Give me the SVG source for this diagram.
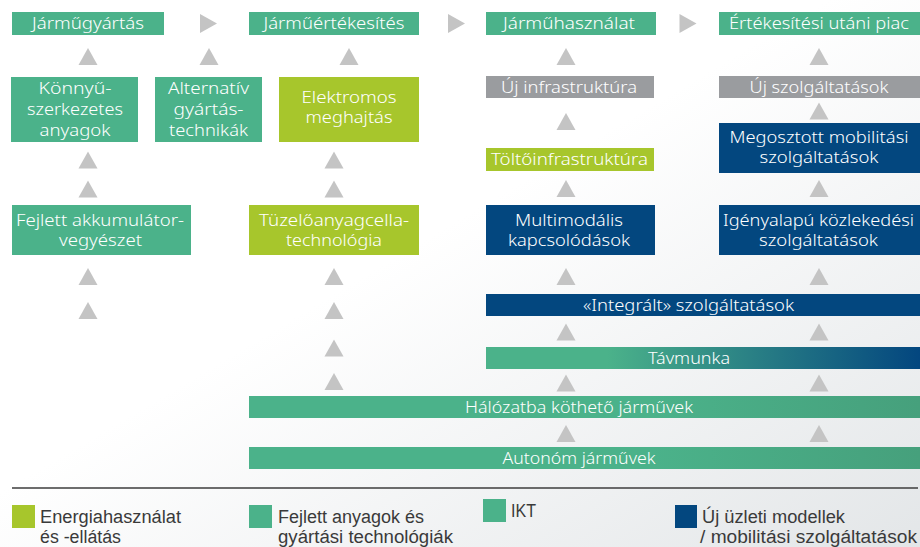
<svg xmlns="http://www.w3.org/2000/svg" width="920" height="547" viewBox="0 0 920 547">
<defs>
<linearGradient id="bg" x1="0" y1="0" x2="1" y2="1">
<stop offset="0" stop-color="#ffffff"/>
<stop offset="0.45" stop-color="#ffffff"/>
<stop offset="1" stop-color="#e3e6e8"/>
</linearGradient>
<linearGradient id="tav" x1="0" y1="0" x2="1" y2="0">
<stop offset="0" stop-color="#4bb28a"/>
<stop offset="0.28" stop-color="#4bb28a"/>
<stop offset="1" stop-color="#03467f"/>
</linearGradient>
<linearGradient id="gbar" x1="0" y1="0" x2="1" y2="0">
<stop offset="0" stop-color="#4bb28a"/>
<stop offset="0.6" stop-color="#4bb28a"/>
<stop offset="1" stop-color="#46a07c"/>
</linearGradient>
<path id="up" d="M-9.5,8.5 L9.5,8.5 L0,-8.5 Z"/>
<path id="rt" d="M-8.5,-9.5 L-8.5,9.5 L8.5,0 Z"/>
</defs>
<style>
.g{fill:#4bb28a}
.l{fill:#a7c62c}
.b{fill:#03477f}
.y{fill:#9a9c9f}
.t{font-family:"Noto Sans","Open Sans","DejaVu Sans",sans-serif;font-size:16px;font-weight:300;fill:#ffffff;text-anchor:middle}
.lg{font-family:"Liberation Sans","Noto Sans",sans-serif;font-size:18px;fill:#3a3a3a}
.tri{fill:#c4c4c4}
</style>
<rect x="0" y="0" width="920" height="547" fill="url(#bg)"/>

<g id="connectors">
<use href="#rt" class="tri" x="208.5" y="23.5"/>
<use href="#rt" class="tri" x="456.5" y="23.5"/>
<use href="#rt" class="tri" x="688" y="23.5"/>
<use href="#up" class="tri" x="88" y="56.5"/>
<use href="#up" class="tri" x="88" y="160"/>
<use href="#up" class="tri" x="88" y="189"/>
<use href="#up" class="tri" x="88" y="276.5"/>
<use href="#up" class="tri" x="88" y="310.5"/>
<use href="#up" class="tri" x="209" y="56.5"/>
<use href="#up" class="tri" x="349" y="56.5"/>
<use href="#up" class="tri" x="334" y="160"/>
<use href="#up" class="tri" x="334" y="189"/>
<use href="#up" class="tri" x="334" y="276.5"/>
<use href="#up" class="tri" x="334" y="310.5"/>
<use href="#up" class="tri" x="334" y="348"/>
<use href="#up" class="tri" x="334" y="381.5"/>
<use href="#up" class="tri" x="566" y="56.5"/>
<use href="#up" class="tri" x="566" y="121.5"/>
<use href="#up" class="tri" x="566" y="188.5"/>
<use href="#up" class="tri" x="566" y="276.5"/>
<use href="#up" class="tri" x="566" y="332"/>
<use href="#up" class="tri" x="566" y="383"/>
<use href="#up" class="tri" x="566" y="433.5"/>
<use href="#up" class="tri" x="819" y="56.5"/>
<use href="#up" class="tri" x="819" y="111"/>
<use href="#up" class="tri" x="819" y="188.5"/>
<use href="#up" class="tri" x="819" y="276.5"/>
<use href="#up" class="tri" x="819" y="332"/>
<use href="#up" class="tri" x="819" y="383"/>
<use href="#up" class="tri" x="819" y="433.5"/>
</g>

<g id="jarmugyartas"><rect class="g" x="12" y="12" width="152" height="23"/><text class="t" x="88" y="29" textLength="112" lengthAdjust="spacingAndGlyphs">Járműgyártás</text></g>
<g id="jarmuertekesites"><rect class="g" x="249" y="12" width="170" height="23"/><text class="t" x="334" y="29" textLength="141" lengthAdjust="spacingAndGlyphs">Járműértékesítés</text></g>
<g id="jarmuhasznalat"><rect class="g" x="486" y="12" width="170" height="23"/><text class="t" x="569" y="29" textLength="132" lengthAdjust="spacingAndGlyphs">Járműhasználat</text></g>
<g id="ertekesitesi-utani-piac"><rect class="g" x="719" y="12" width="201" height="23"/><text class="t" x="819" y="29" textLength="180" lengthAdjust="spacingAndGlyphs">Értékesítési utáni piac</text></g>

<g id="konnyu"><rect class="g" x="11" y="77" width="127" height="65"/>
<text class="t" x="75" y="94" textLength="73" lengthAdjust="spacingAndGlyphs">Könnyű-</text>
<text class="t" x="75" y="115" textLength="96" lengthAdjust="spacingAndGlyphs">szerkezetes</text>
<text class="t" x="75" y="136" textLength="71" lengthAdjust="spacingAndGlyphs">anyagok</text></g>
<g id="alternativ"><rect class="g" x="155" y="77" width="107" height="65"/>
<text class="t" x="208.5" y="94" textLength="81" lengthAdjust="spacingAndGlyphs">Alternatív</text>
<text class="t" x="208.5" y="115" textLength="70" lengthAdjust="spacingAndGlyphs">gyártás-</text>
<text class="t" x="208.5" y="136" textLength="79" lengthAdjust="spacingAndGlyphs">technikák</text></g>
<g id="elektromos"><rect class="l" x="279" y="77" width="140" height="65"/>
<text class="t" x="349" y="103" textLength="95" lengthAdjust="spacingAndGlyphs">Elektromos</text>
<text class="t" x="349" y="123" textLength="87" lengthAdjust="spacingAndGlyphs">meghajtás</text></g>

<g id="uj-infrastruktura"><rect class="y" x="486" y="76" width="168" height="22"/><text class="t" x="569" y="93" textLength="136" lengthAdjust="spacingAndGlyphs">Új infrastruktúra</text></g>
<g id="uj-szolgaltatasok"><rect class="y" x="719" y="76" width="201" height="22"/><text class="t" x="819" y="93" textLength="139" lengthAdjust="spacingAndGlyphs">Új szolgáltatások</text></g>
<g id="megosztott"><rect class="b" x="719" y="123" width="201" height="50"/>
<text class="t" x="819" y="143" textLength="179" lengthAdjust="spacingAndGlyphs">Megosztott mobilitási</text>
<text class="t" x="819" y="163" textLength="119" lengthAdjust="spacingAndGlyphs">szolgáltatások</text></g>
<g id="toltoinfrastruktura"><rect class="l" x="486" y="148" width="168" height="23"/><text class="t" x="569.5" y="165" textLength="157" lengthAdjust="spacingAndGlyphs">Töltőinfrastruktúra</text></g>

<g id="akkumulator"><rect class="g" x="12" y="205" width="179" height="50"/>
<text class="t" x="100" y="226" textLength="168" lengthAdjust="spacingAndGlyphs">Fejlett akkumulátor-</text>
<text class="t" x="100.5" y="246" textLength="83" lengthAdjust="spacingAndGlyphs">vegyészet</text></g>
<g id="tuzeloanyagcella"><rect class="l" x="249" y="205" width="170" height="50"/>
<text class="t" x="334" y="226" textLength="150" lengthAdjust="spacingAndGlyphs">Tüzelőanyagcella-</text>
<text class="t" x="334" y="246" textLength="96" lengthAdjust="spacingAndGlyphs">technológia</text></g>
<g id="multimodalis"><rect class="b" x="486" y="205" width="169" height="50"/>
<text class="t" x="569" y="226" textLength="108" lengthAdjust="spacingAndGlyphs">Multimodális</text>
<text class="t" x="569" y="246" textLength="122" lengthAdjust="spacingAndGlyphs">kapcsolódások</text></g>
<g id="igenyalapu"><rect class="b" x="719" y="205" width="201" height="50"/>
<text class="t" x="818.5" y="226" textLength="191" lengthAdjust="spacingAndGlyphs">Igényalapú közlekedési</text>
<text class="t" x="818.5" y="246" textLength="119" lengthAdjust="spacingAndGlyphs">szolgáltatások</text></g>

<g id="integralt"><rect class="b" x="486" y="294" width="434" height="22"/><text class="t" x="688.5" y="310.5" textLength="211" lengthAdjust="spacingAndGlyphs">«Integrált» szolgáltatások</text></g>
<g id="tavmunka"><rect fill="url(#tav)" x="486" y="347" width="434" height="22"/><text class="t" x="689" y="363.5" textLength="82" lengthAdjust="spacingAndGlyphs">Távmunka</text></g>
<g id="halozatba"><rect fill="url(#gbar)" x="249" y="396" width="671" height="22"/><text class="t" x="579" y="413" textLength="228" lengthAdjust="spacingAndGlyphs">Hálózatba köthető járművek</text></g>
<g id="autonom"><rect fill="url(#gbar)" x="249" y="447" width="671" height="22"/><text class="t" x="579" y="463.5" textLength="153" lengthAdjust="spacingAndGlyphs">Autonóm járművek</text></g>

<g id="legend">
<line x1="12" y1="488" x2="918" y2="488" stroke="#3d3d3d" stroke-width="1.5"/>
<rect class="l" x="12" y="505" width="23" height="23"/>
<text class="lg" x="40" y="523" textLength="141" lengthAdjust="spacingAndGlyphs">Energiahasználat</text>
<text class="lg" x="40" y="543" textLength="81" lengthAdjust="spacingAndGlyphs">és -ellátás</text>
<rect class="g" x="249" y="505" width="23" height="23"/>
<text class="lg" x="278" y="523" textLength="146" lengthAdjust="spacingAndGlyphs">Fejlett anyagok és</text>
<text class="lg" x="278" y="543" textLength="175" lengthAdjust="spacingAndGlyphs">gyártási technológiák</text>
<rect class="g" x="483" y="499" width="23" height="23"/>
<text class="lg" x="511" y="517" textLength="25" lengthAdjust="spacingAndGlyphs">IKT</text>
<rect class="b" x="675" y="505" width="22" height="23"/>
<text class="lg" x="702" y="523" textLength="143" lengthAdjust="spacingAndGlyphs">Új üzleti modellek</text>
<text class="lg" x="700" y="543" textLength="217" lengthAdjust="spacingAndGlyphs">/ mobilitási szolgáltatások</text>
</g>
</svg>
